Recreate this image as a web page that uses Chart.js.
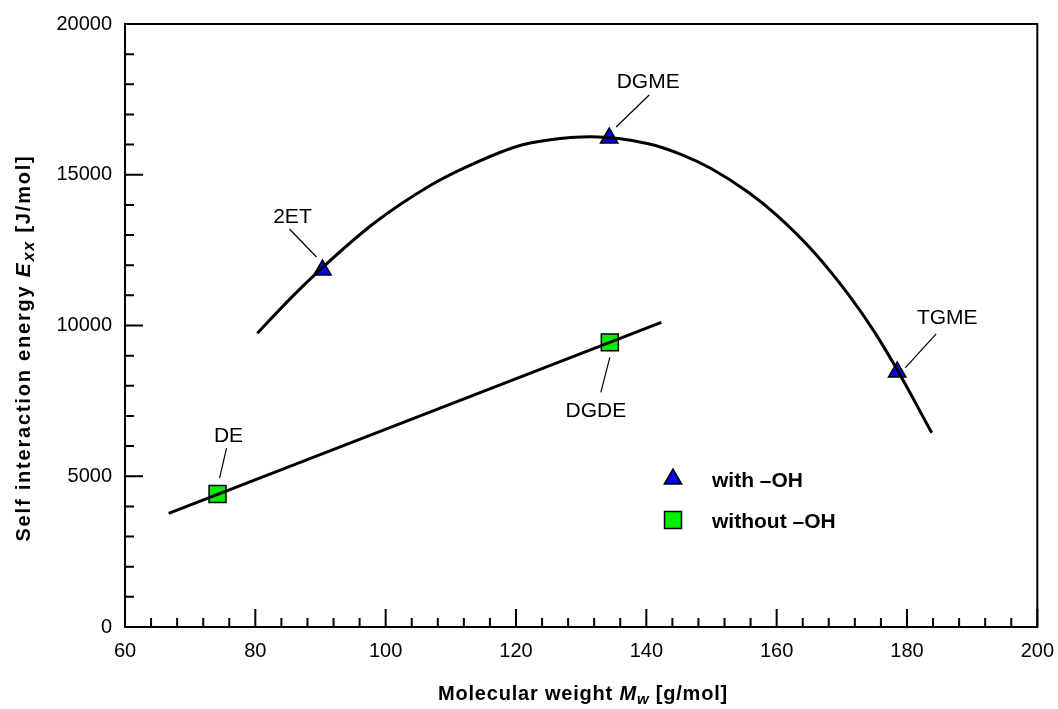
<!DOCTYPE html>
<html>
<head>
<meta charset="utf-8">
<script src="https://cdn.jsdelivr.net/npm/chart.js@4"></script>
<style>
  html, body { margin: 0; padding: 0; background: #fff; }
  #wrap { width: 1058px; height: 709px; }
</style>
</head>
<body>
<div id="wrap"><canvas id="myChart" width="1058" height="709"></canvas></div>
<script>
// measured points
const withOhNames = ['2ET', 'DGME', 'TGME'];
const withOhMw = [90.3, 134.3, 178.5];
const withOhExx = [11840, 16220, 8460];

const withoutOhNames = ['DE', 'DGDE'];
const withoutOhMw = [74.2, 134.4];
const withoutOhExx = [4410, 9440];

// fitted curves
const fitOhMw = [80.3, 85.4, 90.3, 98.2, 106.9, 112, 120, 125, 131.5, 140.3, 145.4, 150, 155.7, 160, 165.9, 171, 175, 178.5, 183.8];
const fitOhExx = [9740, 10900, 11920, 13390, 14650, 15220, 15930, 16150, 16260, 16030, 15670, 15200, 14410, 13660, 12390, 11030, 9790, 8530, 6440];
const fitNoOhMw = [66.7, 142.3];
const fitNoOhExx = [3771, 10106];

const xTicks = [60, 80, 100, 120, 140, 160, 180, 200];
const yTicks = [0, 5000, 10000, 15000, 20000];

const toXY = (xs, ys) => xs.map((x, i) => ({ x: x, y: ys[i] }));

const FONT = '"Liberation Sans", Arial, sans-serif';

// label placement, pixel offsets from the marker
const labelPos = {
  '2ET':  { dx: -30, dy: -53, l: [-33, -41, -6, -13] },
  'DGME': { dx: 39,  dy: -56, l: [40, -43, 7, -11] },
  'TGME': { dx: 50,  dy: -54, l: [39, -38, 8, -4] },
  'DE':   { dx: 11,  dy: -58, l: [9, -46, 2, -16] },
  'DGDE': { dx: -14, dy: 69,  l: [0, 15, -9, 50] }
};

const framePlugin = {
  id: 'frame',
  afterDraw(chart) {
    const ctx = chart.ctx;
    const a = chart.chartArea;
    const xs = chart.scales.x, ys = chart.scales.y;
    ctx.save();
    ctx.strokeStyle = '#000';
    ctx.lineWidth = 2;
    ctx.strokeRect(a.left, a.top, a.right - a.left, a.bottom - a.top);
    ctx.beginPath();
    for (let v = xs.min; v <= xs.max; v += 4) {
      const p = xs.getPixelForValue(v);
      const len = (v % 20 === 0) ? 18 : 9;
      ctx.moveTo(p, a.bottom); ctx.lineTo(p, a.bottom - len);
    }
    for (let v = ys.min; v <= ys.max; v += 1000) {
      const p = ys.getPixelForValue(v);
      const len = (v % 5000 === 0) ? 18 : 9;
      ctx.moveTo(a.left, p); ctx.lineTo(a.left + len, p);
    }
    ctx.stroke();

    // point labels with leader lines
    ctx.lineWidth = 1.2;
    ctx.font = '21px ' + FONT;
    ctx.fillStyle = '#000';
    ctx.textAlign = 'center';
    ctx.textBaseline = 'middle';
    const put = (names, mx, my) => {
      names.forEach((n, i) => {
        const px = xs.getPixelForValue(mx[i]);
        const py = ys.getPixelForValue(my[i]);
        const lp = labelPos[n];
        ctx.beginPath();
        ctx.moveTo(px + lp.l[0], py + lp.l[1]);
        ctx.lineTo(px + lp.l[2], py + lp.l[3]);
        ctx.stroke();
        ctx.fillText(n, px + lp.dx, py + lp.dy);
      });
    };
    put(withOhNames, withOhMw, withOhExx);
    put(withoutOhNames, withoutOhMw, withoutOhExx);

    // legend
    const items = [
      { ds: chart.data.datasets[2], text: 'with \u2013OH', y: 479 },
      { ds: chart.data.datasets[3], text: 'without \u2013OH', y: 520 }
    ];
    ctx.textAlign = 'left';
    ctx.font = 'bold 21px ' + FONT;
    items.forEach(it => {
      ctx.fillStyle = it.ds.backgroundColor;
      ctx.strokeStyle = '#000';
      ctx.lineWidth = 1.5;
      Chart.helpers.drawPoint(ctx, { pointStyle: it.ds.pointStyle, radius: it.ds.pointRadius, borderWidth: 1.5 }, 673, it.y);
      ctx.fillStyle = '#000';
      ctx.fillText(it.text, 712, it.y + 2);
    });

    // axis titles
    const drawRich = (parts, cx, cy, sp) => {
      ctx.letterSpacing = sp + 'px';
      let w = 0;
      parts.forEach(p => { ctx.font = p.f; w += ctx.measureText(p.t).width; });
      let x = cx - w / 2;
      parts.forEach(p => {
        ctx.font = p.f;
        ctx.fillText(p.t, x, cy + (p.dy || 0));
        x += ctx.measureText(p.t).width;
      });
      ctx.letterSpacing = '0px';
    };
    ctx.fillStyle = '#000';
    ctx.textBaseline = 'alphabetic';
    ctx.textAlign = 'left';
    drawRich([
      { t: 'Molecular weight ', f: 'bold 20px ' + FONT },
      { t: 'M', f: 'italic bold 20px ' + FONT },
      { t: 'w', f: 'italic bold 15px ' + FONT, dy: 4 },
      { t: ' [g/mol]', f: 'bold 20px ' + FONT }
    ], 583, 700, 0.8);
    ctx.translate(30, 348);
    ctx.rotate(-Math.PI / 2);
    drawRich([
      { t: 'Self interaction energy ', f: 'bold 20px ' + FONT },
      { t: 'E', f: 'italic bold 21px ' + FONT },
      { t: 'xx', f: 'italic bold 16px ' + FONT, dy: 4 },
      { t: ' [J/mol]', f: 'bold 20px ' + FONT }
    ], 0, 0, 1.8);
    ctx.restore();
  }
};

const grafico = document.getElementById('myChart');
const myChart = new Chart(grafico, {
  type: 'scatter',
  data: {
    datasets: [{
      label: 'fit with -OH',
      data: toXY(fitOhMw, fitOhExx),
      showLine: true,
      borderColor: '#000',
      borderWidth: 3,
      pointRadius: 0,
      cubicInterpolationMode: 'monotone',
      fill: false
    }, {
      label: 'fit without -OH',
      data: toXY(fitNoOhMw, fitNoOhExx),
      showLine: true,
      borderColor: '#000',
      borderWidth: 3,
      pointRadius: 0,
      fill: false
    }, {
      label: 'with \u2013OH',
      data: toXY(withOhMw, withOhExx),
      pointStyle: 'triangle',
      pointRadius: 10,
      backgroundColor: '#0000ff',
      borderColor: '#000',
      borderWidth: 1.5
    }, {
      label: 'without \u2013OH',
      data: toXY(withoutOhMw, withoutOhExx),
      pointStyle: 'rect',
      pointRadius: 12,
      backgroundColor: '#00ee00',
      borderColor: '#000',
      borderWidth: 1.5
    }]
  },
  options: {
    responsive: false,
    animation: false,
    layout: { padding: { top: 24, right: 17, left: 0, bottom: 0 } },
    plugins: { legend: { display: false }, tooltip: { enabled: false } },
    scales: {
      x: {
        type: 'linear',
        min: 60, max: 200,
        grid: { display: false },
        border: { display: false },
        afterBuildTicks: s => { s.ticks = xTicks.map(v => ({ value: v })); },
        afterFit: s => { s.height = 82; },
        ticks: { color: '#000', font: { family: FONT, size: 20 }, padding: 4, maxRotation: 0 }
      },
      y: {
        type: 'linear',
        min: 0, max: 20000,
        grid: { display: false },
        border: { display: false },
        afterBuildTicks: s => { s.ticks = yTicks.map(v => ({ value: v })); },
        afterFit: s => { s.width = 125; },
        ticks: { color: '#000', font: { family: FONT, size: 20 }, padding: 5, callback: v => String(v) }
      }
    }
  },
  plugins: [framePlugin]
});
</script>
</body>
</html>
